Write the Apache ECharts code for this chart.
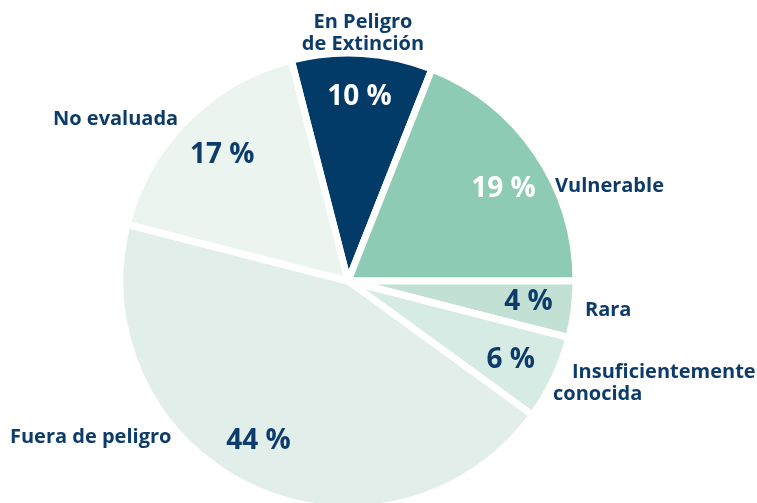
<!DOCTYPE html>
<html>
<head>
<meta charset="utf-8">
<script src="https://cdn.jsdelivr.net/npm/echarts@6/dist/echarts.min.js"></script>
<style>
  html, body { margin: 0; padding: 0; background: #fff; }
  #chart { width: 757px; height: 503px; }
</style>
</head>
<body>
<div id="chart"></div>
<script>
// categorías en orden horario desde arriba
const categories = ['En Peligro\nde Extinción', 'Vulnerable', 'Rara', 'Insuficientemente\nconocida', 'Fuera de peligro', 'No evaluada'];
const percents = [10, 19, 4, 6, 44, 17];

const sliceColors = ['#023a68', '#8ecbb4', '#c2e0d4', '#d6ebe3', '#e2eeea', '#ebf4ee'];
const pctColors = ['#ffffff', '#ffffff', '#0d3c6b', '#0d3c6b', '#0d3c6b', '#0d3c6b'];

// posición de las etiquetas de nombre (x, y, alineación)
const namePos = [
  [363, 33, 'center'],
  [555, 186, 'left'],
  [585, 310, 'left'],
  [553, 383, 'left'],
  [10, 437, 'left'],
  [53, 119, 'left']
];
// pequeños ajustes de los porcentajes
const pctShift = [[0, -2], [5, 10], [0, -2], [-2, 2], [-12, -5], [3, 3]];

const navy = '#0d3c6b';
const font = '"Open Sans", "Noto Sans", sans-serif';

const chart = echarts.init(document.getElementById('chart'));

const option = {
  animation: false,
  series: [
    {
      type: 'pie',
      center: [348, 281],
      radius: [0, 228],
      startAngle: 104.4,
      clockwise: true,
      silent: true,
      itemStyle: { borderColor: '#fff', borderWidth: 7 },
      label: {
        show: true,
        position: 'outside',
        overflow: 'none',
        color: navy,
        fontFamily: font,
        fontWeight: 'bold',
        fontSize: 20,
        lineHeight: 22,
        formatter: function (p) {
          if (p.dataIndex === 3) return '{a|Insuficientemente}\n{b|conocida}';
          return p.name;
        },
        rich: {
          a: { color: navy, fontFamily: font, fontWeight: 'bold', fontSize: 20, lineHeight: 22, padding: [0, 0, 0, 19] },
          b: { color: navy, fontFamily: font, fontWeight: 'bold', fontSize: 20, lineHeight: 22 }
        }
      },
      labelLine: { show: false },
      labelLayout: function (p) {
        const pos = namePos[p.dataIndex];
        return { x: pos[0], y: pos[1], align: pos[2], verticalAlign: 'middle' };
      },
      data: categories.map((c, i) => ({
        name: c,
        value: percents[i],
        itemStyle: { color: sliceColors[i] }
      }))
    },
    {
      // capa transparente para colocar los porcentajes
      type: 'pie',
      center: [348, 281],
      radius: [136, 222],
      startAngle: 104.4,
      clockwise: true,
      silent: true,
      itemStyle: { color: 'transparent', borderWidth: 0 },
      label: {
        show: true,
        position: 'inside',
        fontFamily: font,
        fontWeight: 'bold',
        fontSize: 28,
        formatter: '{c} %'
      },
      labelLine: { show: false },
      labelLayout: function (p) {
        const s = pctShift[p.dataIndex];
        return { dx: s[0], dy: s[1] };
      },
      data: categories.map((c, i) => ({
        name: c,
        value: percents[i],
        label: { color: pctColors[i] }
      }))
    }
  ]
};

chart.setOption(option);
</script>
</body>
</html>
